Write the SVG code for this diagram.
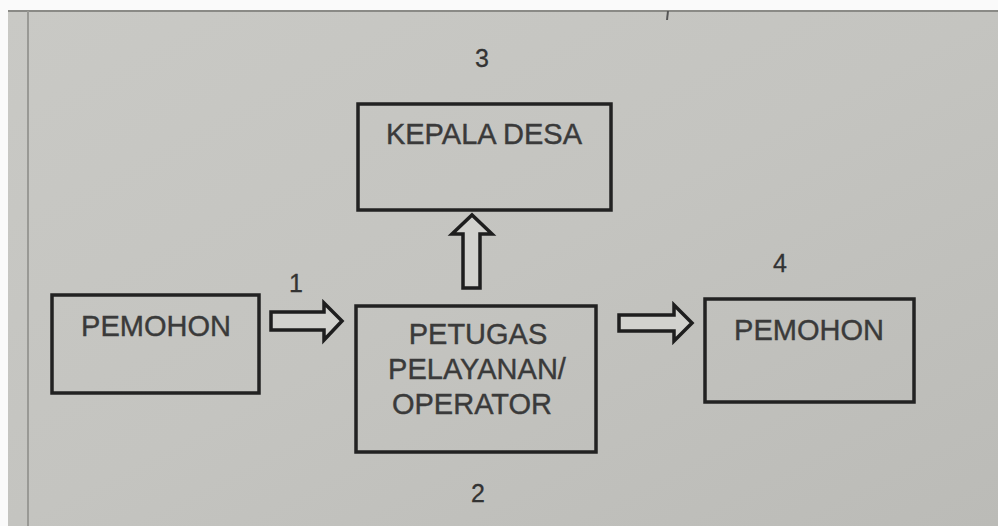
<svg xmlns="http://www.w3.org/2000/svg" width="998" height="526" viewBox="0 0 998 526">
<defs>
<linearGradient id="bg" x1="0" y1="0" x2="1" y2="1">
<stop offset="0" stop-color="#c9c9c5"/>
<stop offset="0.5" stop-color="#c4c4c0"/>
<stop offset="1" stop-color="#bbbbb7"/>
</linearGradient>
<style>
.box{fill:none;stroke:#222;stroke-width:3.5}
.t{font-family:"Liberation Sans",Arial,sans-serif;font-size:29px;fill:#3a3a3a;stroke:#3a3a3a;stroke-width:0.4;text-anchor:middle}
.n{font-family:"Liberation Sans",Arial,sans-serif;font-size:25px;fill:#333;stroke:#333;stroke-width:0.3;text-anchor:middle}
.arr{fill:#d2d2ce;stroke:#1e1e1e;stroke-width:3.5;stroke-linejoin:miter}
</style>
</defs>
<rect width="998" height="526" fill="#fafafa"/>
<rect x="8" y="10" width="990" height="516" fill="url(#bg)"/>
<line x1="8" y1="11" x2="998" y2="11" stroke="#8a8a86" stroke-width="2"/>
<line x1="28" y1="11" x2="28" y2="526" stroke="#999995" stroke-width="2"/>
<line x1="668" y1="11" x2="667" y2="20" stroke="#555" stroke-width="2"/>

<g id="connectors">
<polygon class="arr" points="271,312 324,312 324,303 342,321 324,340 324,330 271,330"/>
<polygon class="arr" points="619,315 674,315 674,305 692,323 674,341 674,331 619,331"/>
<polygon class="arr" points="463,288 463,234 452,234 472,215 492,234 480,234 480,288"/>
</g>

<g id="kepala-desa">
<rect class="box" x="358" y="104" width="253" height="106"/>
<text class="t" x="484" y="144">KEPALA DESA</text>
<text class="n" x="482" y="67">3</text>
</g>

<g id="pemohon-1">
<rect class="box" x="52" y="295" width="207" height="98"/>
<text class="t" x="156" y="336">PEMOHON</text>
<text class="n" x="296" y="292">1</text>
</g>

<g id="petugas">
<rect class="box" x="356" y="306" width="240" height="146"/>
<text class="t" x="478" y="344">PETUGAS</text>
<text class="t" x="477" y="379">PELAYANAN/</text>
<text class="t" x="472" y="414">OPERATOR</text>
<text class="n" x="478" y="502">2</text>
</g>

<g id="pemohon-4">
<rect class="box" x="705" y="299" width="209" height="103"/>
<text class="t" x="809" y="340">PEMOHON</text>
<text class="n" x="780" y="272">4</text>
</g>
</svg>
